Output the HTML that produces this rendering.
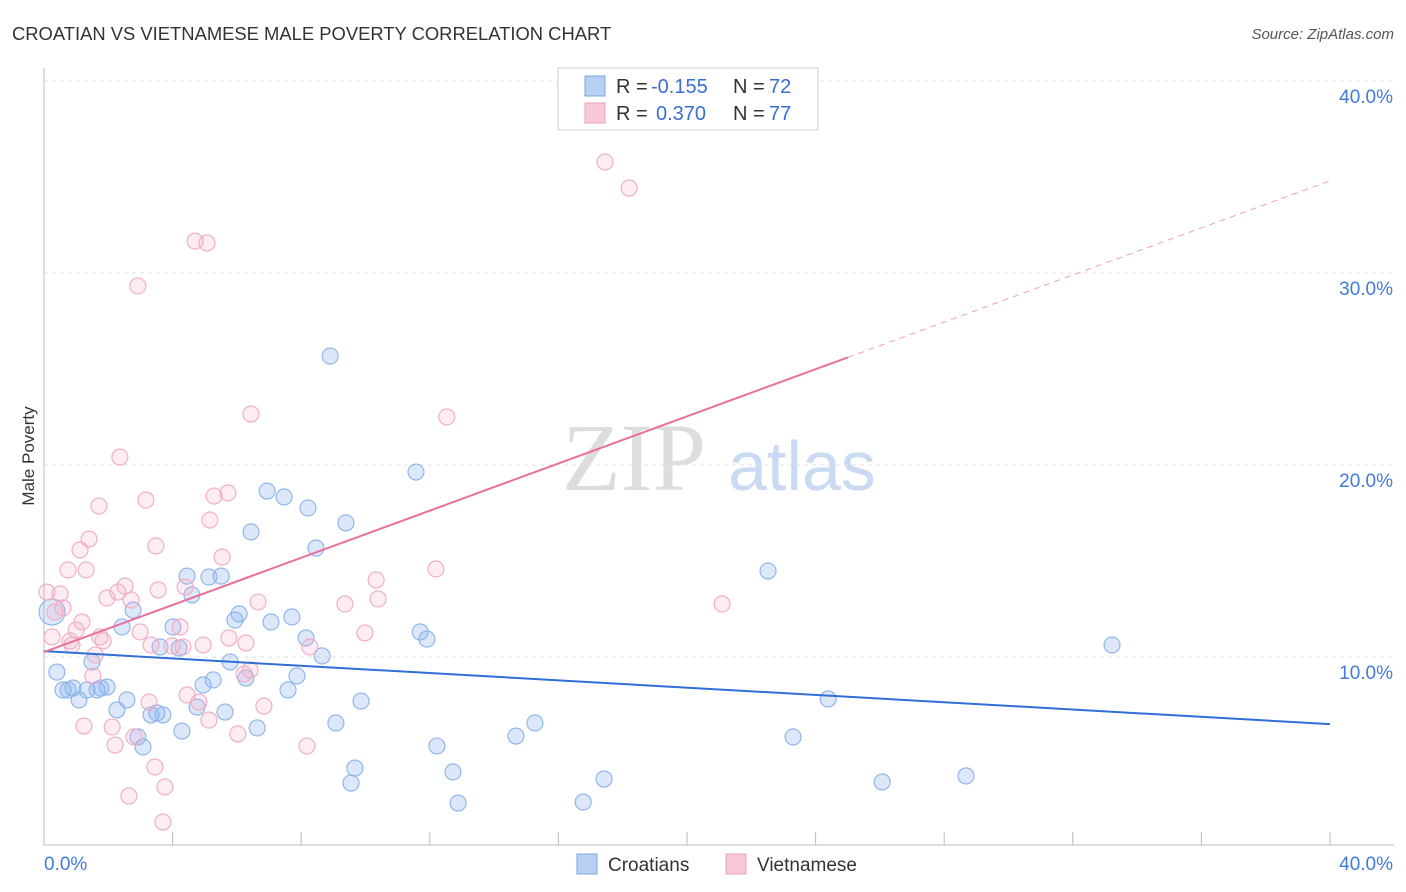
<!DOCTYPE html>
<html><head><meta charset="utf-8"><style>
body{margin:0;background:#fff;font-family:"Liberation Sans",sans-serif;}
svg{display:block}
</style></head><body>
<svg width="1406" height="892" id="c">
<text x="12" y="40" font-size="18.4" fill="#333">CROATIAN VS VIETNAMESE MALE POVERTY CORRELATION CHART</text>
<text x="1394" y="39" font-size="15" fill="#555" font-style="italic" text-anchor="end">Source: ZipAtlas.com</text>
<text x="34" y="456" font-size="17" fill="#333" text-anchor="middle" transform="rotate(-90 34 456)">Male Poverty</text>
<g><text x="634" y="490" font-size="96" fill="#ddd" font-family="Liberation Serif,serif" text-anchor="middle">ZIP</text><text x="802" y="490" font-size="70" fill="#c9daf2" text-anchor="middle">atlas</text></g>
<g id="grid"></g><g id="marks"></g>
<g>
<rect x="558" y="68" width="260" height="62" fill="#fff" stroke="#ccc"/>
<rect x="585" y="76" width="20" height="20" fill="#b8d0f3" stroke="#7aa6e6"/>
<text x="616" y="93" font-size="20" fill="#333">R =</text><text x="651" y="93" font-size="20" fill="#3a6fd0">-0.155</text>
<text x="733" y="93" font-size="20" fill="#333">N =</text><text x="769" y="93" font-size="20" fill="#3a6fd0">72</text>
<rect x="585" y="103" width="20" height="20" fill="#f9c8d6" stroke="#eea0b8"/>
<text x="616" y="120" font-size="20" fill="#333">R =</text><text x="656" y="120" font-size="20" fill="#3a6fd0">0.370</text>
<text x="733" y="120" font-size="20" fill="#333">N =</text><text x="769" y="120" font-size="20" fill="#3a6fd0">77</text>
</g>
<g>
<rect x="577" y="854" width="20" height="20" fill="#b8d0f3" stroke="#7aa6e6"/><text x="608" y="871" font-size="19" fill="#333">Croatians</text>
<rect x="726" y="854" width="20" height="20" fill="#f9c8d6" stroke="#eea0b8"/><text x="757" y="871" font-size="19" fill="#333">Vietnamese</text>
</g>
</svg>
<script>
const yTicks=[10,20,30,40];
const xTickLabels=["0.0%","40.0%"];
const bluePx=[[52,612],[57,672],[63,690],[68,690],[73,688],[79,700],[87,690],[92,662],[97,690],[101,688],[107,687],[117,710],[122,627],[127,700],[133,610],[138,737],[143,747],[151,715],[157,713],[160,647],[163,715],[173,627],[179,648],[182,731],[187,576],[192,595],[197,707],[203,685],[209,577],[213,680],[221,576],[225,712],[230,662],[235,620],[239,614],[246,678],[251,532],[257,728],[267,491],[271,622],[284,497],[288,690],[292,617],[297,676],[306,638],[308,508],[316,548],[322,656],[330,356],[336,723],[346,523],[351,783],[355,768],[361,701],[416,472],[420,632],[427,639],[437,746],[453,772],[458,803],[516,736],[535,723],[583,802],[604,779],[768,571],[793,737],[828,699],[882,782],[966,776],[1112,645]];
const pinkPx=[[47,592],[52,637],[55,612],[60,594],[63,608],[68,570],[70,641],[72,645],[76,630],[80,550],[82,622],[84,726],[86,570],[89,539],[93,676],[95,655],[99,506],[100,637],[103,641],[107,598],[112,727],[115,745],[118,592],[120,457],[125,586],[129,796],[131,600],[134,737],[138,286],[140,632],[146,500],[149,702],[151,645],[155,767],[156,546],[158,590],[163,822],[165,787],[172,646],[180,627],[183,647],[185,587],[187,695],[195,241],[199,702],[203,645],[207,243],[209,720],[210,520],[214,496],[222,557],[228,493],[229,638],[238,734],[244,674],[246,643],[250,670],[251,414],[258,602],[264,706],[307,746],[310,647],[345,604],[365,633],[376,580],[378,599],[436,569],[447,417],[605,162],[629,188],[722,604]];
const croatians=bluePx.map(p=>[+((p[0]-44)/32.15).toFixed(2),+((847-p[1])/19.2).toFixed(2)]);
const vietnamese=pinkPx.map(p=>[+((p[0]-44)/32.15).toFixed(2),+((847-p[1])/19.2).toFixed(2)]);
const blueTrend=[[0,10.2],[40,6.4]];
const pinkTrend=[[0,10.15],[25,25.5],[40,34.7]];
const X=v=>44+v*32.15, Y=v=>847-v*19.2;
const NS="http://www.w3.org/2000/svg";
function mk(t,a,p){const e=document.createElementNS(NS,t);for(const k in a)e.setAttribute(k,a[k]);p.appendChild(e);return e;}
const g=document.getElementById('grid'), m=document.getElementById('marks');
mk('line',{x1:44,y1:68,x2:44,y2:845,stroke:'#bbb'},g);
mk('line',{x1:44,y1:845,x2:1394,y2:845,stroke:'#bbb'},g);
for(let i=0;i<=10;i++){const l=mk('line',{x1:X(i*4),x2:X(i*4),y1:845,y2:832,stroke:'#bbb'},g);}
yTicks.forEach(v=>{const l=mk('line',{x1:44,x2:1394,y1:Y(v)+2,y2:Y(v)+2,stroke:'#e2e2e2','stroke-dasharray':'4 4'},g);
const t=mk('text',{x:1393,y:Y(v)+24,'font-size':19,fill:'#3f7bd8','text-anchor':'end'},g);t.textContent=v.toFixed(1)+'%';});
const t0=mk('text',{x:44,y:870,'font-size':19,fill:'#3f7bd8'},g);t0.textContent=xTickLabels[0];
const t1=mk('text',{x:1393,y:870,'font-size':19,fill:'#3f7bd8','text-anchor':'end'},g);t1.textContent=xTickLabels[1];
croatians.forEach((d,i)=>{const c=mk('circle',{cx:X(d[0]),cy:Y(d[1]),r:i==0?13:8,fill:'rgba(140,180,240,0.3)',stroke:'#8ab2ea','stroke-width':1.1},m);});
vietnamese.forEach(d=>{const c=mk('circle',{cx:X(d[0]),cy:Y(d[1]),r:8,fill:'rgba(245,170,195,0.22)',stroke:'#f0aac0','stroke-width':1.1},m);});
let l=mk('line',{x1:X(blueTrend[0][0]),y1:Y(blueTrend[0][1]),x2:X(blueTrend[1][0]),y2:Y(blueTrend[1][1]),stroke:'#2f6fd6','stroke-width':2},m);
l=mk('line',{x1:X(pinkTrend[0][0]),y1:Y(pinkTrend[0][1]),x2:X(pinkTrend[1][0]),y2:Y(pinkTrend[1][1]),stroke:'#e8709a','stroke-width':2},m);
l=mk('line',{x1:X(pinkTrend[1][0]),y1:Y(pinkTrend[1][1]),x2:X(pinkTrend[2][0]),y2:Y(pinkTrend[2][1]),stroke:'#eea0b8','stroke-width':1,'stroke-dasharray':'6 5'},m);
</script>
</body></html>
